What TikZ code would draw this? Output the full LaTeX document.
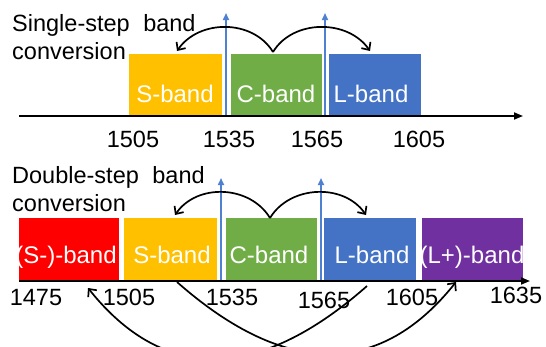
\documentclass[tikz,border=0pt]{standalone}
\usepackage{fontspec}
\setmainfont{Liberation Sans}
\usetikzlibrary{arrows.meta}
\definecolor{sband}{RGB}{255,192,0}
\definecolor{cband}{RGB}{112,173,71}
\definecolor{lband}{RGB}{68,114,196}
\definecolor{smband}{RGB}{255,0,0}
\definecolor{lpband}{RGB}{112,48,160}
\definecolor{pump}{RGB}{79,129,210}
\begin{document}
\begin{tikzpicture}[x=1pt,y=-1pt,
  bandbox/.style={fill=#1, draw=none, anchor=north west, inner sep=0pt, outer sep=0pt},
  bandtext/.style={text=white, anchor=base, inner sep=0pt, font=\fontsize{24}{28}\selectfont},
  numtxt/.style={anchor=base, inner sep=0pt, font=\fontsize{23.5}{28}\selectfont},
  titletxt/.style={anchor=base west, inner sep=0pt, font=\fontsize{23.5}{28}\selectfont},
  axisline/.style={line width=1.7pt, -{Triangle[length=9pt,width=7pt]}},
  pumpline/.style={draw=pump, line width=1.6pt, -{Triangle[length=7pt,width=6pt]}},
  conv/.style={line width=1.7pt, -{Straight Barb[length=6pt,width=11pt]}}]
\useasboundingbox (0,0) rectangle (546,346);
\clip (0,0) rectangle (546,346);

% ---------- single-step ----------
\node[titletxt] (t1a) at (12,31) {Single-step\hspace{7pt} band};
\node[titletxt] (t1b) at (12,59) {conversion};

\node[bandbox=sband, minimum width=93pt, minimum height=61pt] (s1) at (129,54) {};
\node[bandbox=cband, minimum width=91pt, minimum height=61pt] (c1) at (231,54) {};
\node[bandbox=lband, minimum width=92pt, minimum height=61pt] (l1) at (329,54) {};
\node[bandtext] (s1t) at (175,102) {S-band};
\node[bandtext] (c1t) at (276,102) {C-band};
\node[bandtext] (l1t) at (371,102) {L-band};

\coordinate (ax1s) at (19,116);
\coordinate (ax1e) at (523,116);
\draw[axisline] (ax1s) -- (ax1e);

\coordinate (p1a) at (226,115);
\coordinate (p1b) at (226,13);
\coordinate (p2a) at (325,115);
\coordinate (p2b) at (325,13);
\draw[pumpline] (p1a) -- (p1b);
\draw[pumpline] (p2a) -- (p2b);

\coordinate (o1) at (273,52);
\coordinate (e1s) at (177,51);
\coordinate (e1l) at (370,51);
\draw[conv] (o1) .. controls +(-20,-33) and +(22,-32) .. (e1s);
\draw[conv] (o1) .. controls +(20,-33) and +(-22,-32) .. (e1l);

\node[numtxt] (n1a) at (133,147) {1505};
\node[numtxt] (n1b) at (229,147) {1535};
\node[numtxt] (n1c) at (317,147) {1565};
\node[numtxt] (n1d) at (419,147) {1605};

% ---------- double-step ----------
\node[titletxt] (t2a) at (12,183) {Double-step\hspace{7pt} band};
\node[titletxt] (t2b) at (12,211) {conversion};

\node[bandbox=smband, minimum width=100pt, minimum height=62pt] (r2) at (19,218) {};
\node[bandbox=sband, minimum width=93pt, minimum height=62pt] (s2) at (124,218) {};
\node[bandbox=cband, minimum width=91pt, minimum height=62pt] (c2) at (226,218) {};
\node[bandbox=lband, minimum width=92pt, minimum height=62pt] (l2) at (324,218) {};
\node[bandbox=lpband, minimum width=101pt, minimum height=62pt] (u2) at (422,218) {};
\node[bandtext] (r2t) at (66,263) {(S-)-band};
\node[bandtext] (s2t) at (172,263) {S-band};
\node[bandtext] (c2t) at (269,263) {C-band};
\node[bandtext] (l2t) at (372,263) {L-band};
\node[bandtext] (u2t) at (472,263) {(L+)-band};

\coordinate (ax2s) at (19,281);
\coordinate (ax2e) at (530,281);
\draw[axisline] (ax2s) -- (ax2e);

\coordinate (p3a) at (221,280);
\coordinate (p3b) at (221,178);
\coordinate (p4a) at (321,280);
\coordinate (p4b) at (321,178);
\draw[pumpline] (p3a) -- (p3b);
\draw[pumpline] (p4a) -- (p4b);

\coordinate (o2) at (270,218);
\coordinate (e2s) at (175,215);
\coordinate (e2l) at (366,215);
\draw[conv] (o2) .. controls +(-20,-33) and +(22,-32) .. (e2s);
\draw[conv] (o2) .. controls +(20,-33) and +(-22,-32) .. (e2l);

\node[numtxt] (n2a) at (36,305) {1475};
\node[numtxt] (n2b) at (129,305) {1505};
\node[numtxt] (n2c) at (232,305) {1535};
\node[numtxt] (n2d) at (324,308) {1565};
\node[numtxt] (n2e) at (412,305) {1605};
\node[numtxt] (n2f) at (516,303) {1635};

\coordinate (qa) at (177,282);
\coordinate (qb) at (456,282);
\coordinate (qc) at (367,286);
\coordinate (qd) at (88,288);
\draw[conv] (qa) .. controls +(110,97) and +(-75,94) .. (qb);
\draw[conv] (qc) .. controls +(-110,97) and +(75,94) .. (qd);
\end{tikzpicture}
\end{document}
